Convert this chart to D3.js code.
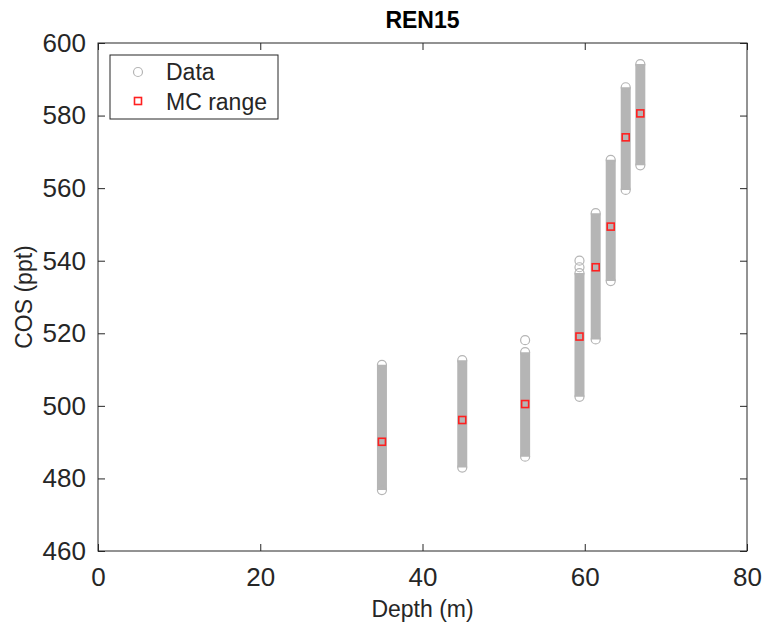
<!DOCTYPE html>
<html>
<head>
<meta charset="utf-8">
<script src="https://d3js.org/d3.v7.min.js"></script>
<style>
body { margin: 0; background: #fff; }
.chart text { font-family: "Liberation Sans", Arial, Helvetica, sans-serif; fill: #262626; }
.axis path { display: none; }
.axis line { stroke: #262626; }
</style>
</head>
<body>
<div class="chart"></div>
<script>
// depth of each sample group (m)
const depths = [35.0, 44.9, 52.65, 59.35, 61.35, 63.2, 65.05, 66.85];
// spread of the data circles (COS, ppt)
const dataMin = [476.8, 483.0, 486.0, 502.5, 518.3, 534.4, 559.5, 566.3];
const dataTop = [511.3, 512.6, 514.8, 536.6, 553.1, 567.8, 587.8, 594.2];
// a few loose circles sitting above the dense part
const looseDepth = [52.65, 59.35, 59.35];
const looseValue = [518.1, 538.2, 540.0];
// MC range markers
const mcValue = [490.1, 496.1, 500.5, 519.1, 538.2, 549.4, 574.0, 580.6];

const xTicks = [0, 20, 40, 60, 80];
const yTicks = [460, 480, 500, 520, 540, 560, 580, 600];

const W = 766, H = 623;
const mLeft = 98, mRight = 747, mTop = 43, mBottom = 551;
const grey = "#b5b5b5";

const svg = d3.select(".chart").append("svg")
    .attr("width", W)
    .attr("height", H);

const x = d3.scaleLinear().domain([0, 80]).range([mLeft, mRight]);
const y = d3.scaleLinear().domain([460, 600]).range([mBottom, mTop]);

// axes, ticks pointing in on all four sides
svg.append("g").attr("class", "axis")
    .attr("transform", "translate(0," + mBottom + ")")
    .call(d3.axisBottom(x).tickValues(xTicks).tickSizeInner(-7).tickSizeOuter(0).tickPadding(17))
    .selectAll("text").style("font-size", "26px");
svg.append("g").attr("class", "axis")
    .attr("transform", "translate(0," + mTop + ")")
    .call(d3.axisTop(x).tickValues(xTicks).tickSizeInner(-7).tickSizeOuter(0).tickFormat(""));
svg.append("g").attr("class", "axis")
    .attr("transform", "translate(" + mLeft + ",0)")
    .call(d3.axisLeft(y).tickValues(yTicks).tickSizeInner(-7).tickSizeOuter(0).tickPadding(12))
    .selectAll("text").style("font-size", "26px");
svg.append("g").attr("class", "axis")
    .attr("transform", "translate(" + mRight + ",0)")
    .call(d3.axisRight(y).tickValues(yTicks).tickSizeInner(-7).tickSizeOuter(0).tickFormat(""));

svg.append("rect")
    .attr("x", mLeft).attr("y", mTop)
    .attr("width", mRight - mLeft).attr("height", mBottom - mTop)
    .attr("fill", "none").attr("stroke", "#262626").attr("stroke-width", 1);

// data: dense columns of hollow circles
const cols = d3.range(depths.length);
svg.append("g").selectAll("line")
    .data(cols).enter().append("line")
    .attr("x1", i => x(depths[i])).attr("x2", i => x(depths[i]))
    .attr("y1", i => y(dataTop[i])).attr("y2", i => y(dataMin[i]))
    .attr("stroke", grey).attr("stroke-width", 10);

const ends = [];
cols.forEach(i => {
    ends.push([depths[i], dataTop[i]]);
    ends.push([depths[i], dataMin[i]]);
});
looseDepth.forEach((d, i) => ends.push([d, looseValue[i]]));

svg.append("g").selectAll("circle")
    .data(ends).enter().append("circle")
    .attr("cx", d => x(d[0])).attr("cy", d => y(d[1]))
    .attr("r", 4.5)
    .attr("fill", "none").attr("stroke", grey).attr("stroke-width", 1.2);

// MC range squares
svg.append("g").selectAll("rect")
    .data(cols).enter().append("rect")
    .attr("x", i => x(depths[i]) - 3.5).attr("y", i => y(mcValue[i]) - 3.5)
    .attr("width", 7).attr("height", 7)
    .attr("fill", "none").attr("stroke", "#ff2020").attr("stroke-width", 1.6);

// title and labels
svg.append("text")
    .attr("x", (mLeft + mRight) / 2).attr("y", 28)
    .attr("text-anchor", "middle")
    .style("font-size", "23px").style("font-weight", "bold")
    .style("fill", "#000")
    .text("REN15");

svg.append("text")
    .attr("x", (mLeft + mRight) / 2).attr("y", 617)
    .attr("text-anchor", "middle")
    .style("font-size", "23px")
    .text("Depth (m)");

svg.append("text")
    .attr("transform", "translate(32," + ((mTop + mBottom) / 2) + ") rotate(-90)")
    .attr("text-anchor", "middle")
    .style("font-size", "23px")
    .text("COS (ppt)");

// legend
const lg = svg.append("g");
lg.append("rect")
    .attr("x", 110).attr("y", 55).attr("width", 168).attr("height", 64)
    .attr("fill", "#fff").attr("stroke", "#262626").attr("stroke-width", 1);
lg.append("circle")
    .attr("cx", 138).attr("cy", 72).attr("r", 4.5)
    .attr("fill", "none").attr("stroke", grey).attr("stroke-width", 1.2);
lg.append("rect")
    .attr("x", 134.5).attr("y", 97.5).attr("width", 7).attr("height", 7)
    .attr("fill", "none").attr("stroke", "#ff2020").attr("stroke-width", 1.6);
lg.append("text").attr("x", 166).attr("y", 80).style("font-size", "23px").text("Data");
lg.append("text").attr("x", 166).attr("y", 110).style("font-size", "23px").text("MC range");
</script>
</body>
</html>
